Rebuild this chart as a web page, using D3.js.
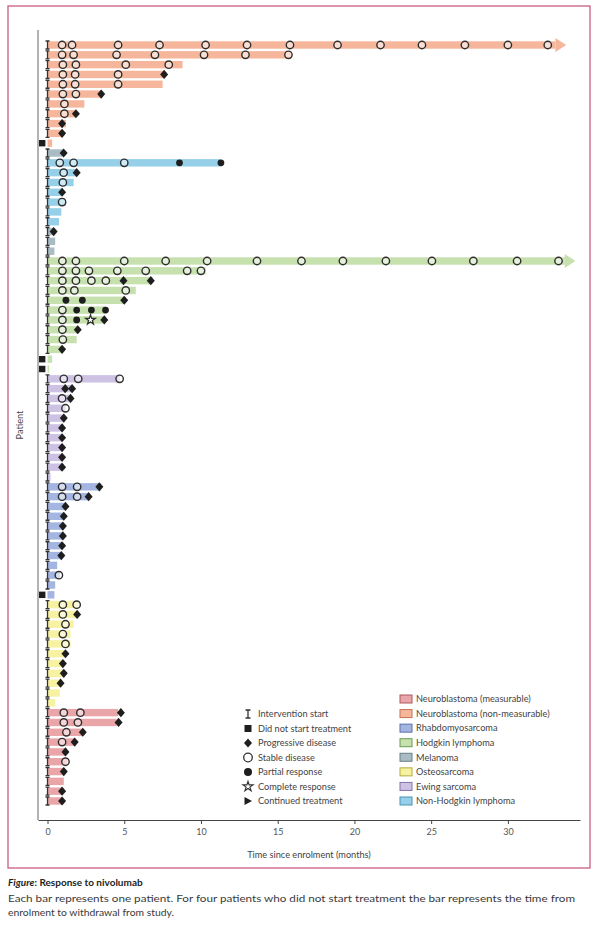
<!DOCTYPE html>
<html><head><meta charset="utf-8">
<script src="https://cdn.jsdelivr.net/npm/d3@7"></script>
<style>body{margin:0;background:#fff}svg{display:block}text{font-family:Lato,"Open Sans",sans-serif}</style>
</head><body><svg id="c" width="600" height="933"></svg>
<script>
// ---------- DATA ----------
const tumourTypes = ["Neuroblastoma (measurable)","Neuroblastoma (non-measurable)","Rhabdomyosarcoma","Hodgkin lymphoma","Melanoma","Osteosarcoma","Ewing sarcoma","Non-Hodgkin lymphoma"];
const typeColors = ["#e9a5a8","#f5b69c","#a3b5e0","#c6e0ae","#a9bcc4","#f7f2a2","#cdc2e4","#95cfe8"];
const typeStrokes = ["#b0575e","#c9724f","#5a70a8","#6d9a4f","#6a7f88","#b3ab3a","#8474a8","#4b93b5"];
// tumour type index per patient (row order top to bottom)
const patientType = [1,1,1,1,1,1,1,1,1,1,1, 4,7,7,7,7,7,7,7,4,4,4,
  3,3,3,3,3,3,3,3,3,3,3,3, 6,6,6,6,6,6,6,6,6,6,6,
  2,2,2,2,2,2,2,2,2,2,2,2, 5,5,5,5,5,5,5,5,5,5,5, 0,0,0,0,0,0,0,0,0,0];
// months on study
const duration = [33.8,15.9,8.8,7.6,7.5,3.5,2.4,1.85,1.2,1.0,0.3, 1.0,11.3,1.9,1.7,1.0,1.2,0.9,0.75,0.4,0.5,0.45,
  34.4,10.3,6.75,5.75,5.0,3.8,3.7,2.0,1.9,0.95,0.3,0.1, 4.7,1.6,1.5,1.2,1.06,0.95,0.95,0.95,0.95,0.95,0.2,
  3.38,2.68,1.17,1.06,1.0,1.0,0.95,0.9,0.63,0.8,0.5,0.45, 2.0,1.93,1.7,1.5,1.5,1.17,1.0,1.06,0.85,0.8,0.5,
  4.6,4.5,2.3,1.77,1.17,1.3,1.06,1.06,0.95,0.95];
const didNotStart = [10,32,33,56];
const continuedTreatment = [0,22];
// [patient, month]
const stableDisease = [
  [0,0.95],[0,1.6],[0,4.6],[0,7.3],[0,10.3],[0,13.0],[0,15.8],[0,18.9],[0,21.7],[0,24.4],[0,27.2],[0,30.0],[0,32.6],
  [1,0.95],[1,1.7],[1,4.5],[1,7.0],[1,10.2],[1,12.9],[1,15.7],
  [2,1.0],[2,1.85],[2,5.1],[2,7.9],[3,1.0],[3,1.8],[3,4.6],[4,1.0],[4,1.8],[4,4.6],
  [5,1.0],[5,1.85],[6,1.1],[7,1.1],
  [12,0.8],[12,1.7],[12,5.0],[13,1.05],[14,1.0],[16,0.95],
  [22,0.97],[22,1.85],[22,5.0],[22,7.7],[22,10.4],[22,13.65],[22,16.55],[22,19.25],[22,22.05],[22,25.05],[22,27.75],[22,30.6],[22,33.3],
  [23,0.97],[23,1.85],[23,2.7],[23,4.55],[23,6.4],[23,9.1],[23,10.0],
  [24,0.97],[24,1.85],[24,2.86],[24,3.8],[25,0.97],[25,1.75],[25,5.1],
  [27,0.97],[28,0.97],[29,0.97],[30,1.0],
  [34,1.06],[34,2.0],[34,4.7],[36,0.95],[37,1.17],
  [45,0.95],[45,1.93],[46,0.95],[46,1.93],[54,0.74],
  [57,1.0],[57,1.9],[58,1.0],[59,1.17],[60,1.0],[61,1.17],
  [68,1.06],[68,2.14],[69,1.06],[69,1.98],[70,1.23],[71,0.95],[73,1.17]];
const partialResponse = [[12,8.6],[12,11.3],[26,1.2],[26,2.27],[27,1.9],[27,2.86],[27,3.78],[28,1.9]];
const completeResponse = [[28,2.8]];
const progressiveDisease = [[3,7.6],[5,3.5],[7,1.85],[8,0.95],[9,0.95],
  [11,1.05],[13,1.9],[15,0.95],[19,0.4],
  [24,4.95],[24,6.73],[26,5.0],[28,3.7],[29,1.97],[31,0.95],
  [35,1.15],[35,1.6],[36,1.5],[38,1.06],[39,0.95],[40,0.95],[41,0.95],[42,0.95],[43,0.95],
  [45,3.38],[46,2.68],[47,1.17],[48,1.06],[49,1.0],[50,1.0],[51,0.95],[52,0.9],
  [58,1.93],[62,1.17],[63,1.0],[64,1.06],[65,0.85],
  [68,4.78],[69,4.63],[70,2.3],[71,1.77],[72,1.17],[74,1.06],[76,0.95],[77,0.95]];
const xTicks = [0,5,10,15,20,25,30];
const responseLegend = ["Intervention start","Did not start treatment","Progressive disease","Stable disease","Partial response","Complete response","Continued treatment"];

// ---------- DRAW ----------
const svg = d3.select("#c");
const dark = "#1e1e1e";
const x = d3.scaleLinear().domain([-0.62, 34.7]).range([38, 580]);
const y = d3.scaleLinear().domain([0, patientType.length - 1]).range([45, 801]);
const barH = 7.4;

// frame
svg.append("rect").attr("x",8).attr("y",6).attr("width",582).attr("height",862)
  .attr("fill","none").attr("stroke","#c95c7e").attr("stroke-width",1.3);

const rows = d3.range(patientType.length);
const dns = new Set(didNotStart), cont = new Set(continuedTreatment);
const arrowLen = 0.7;

// bars
svg.append("g").selectAll("rect").data(rows).join("rect")
  .attr("x", x(0))
  .attr("y", i => y(i) - barH/2)
  .attr("width", i => x(cont.has(i) ? duration[i]-arrowLen : duration[i]) - x(0))
  .attr("height", barH)
  .attr("fill", i => typeColors[patientType[i]]);
// arrows
svg.append("g").selectAll("path").data(continuedTreatment).join("path")
  .attr("d", i => { const x0 = x(duration[i]-arrowLen), x1 = x(duration[i]), yy = y(i);
    return `M${x0},${yy-7}L${x1},${yy}L${x0},${yy+7}Z`; })
  .attr("fill", i => typeColors[patientType[i]]);

// intervention start I-beams
const starts = rows.filter(i => !dns.has(i));
svg.append("g").selectAll("path").data(starts).join("path")
  .attr("d", i => { const xx = x(0), yy = y(i);
    return `M${xx},${yy-4}V${yy+4}M${xx-2},${yy-4}H${xx+2}M${xx-2},${yy+4}H${xx+2}`; })
  .attr("stroke", "#333").attr("stroke-width", 1.3).attr("fill","none");

// y axis & x axis
svg.append("line").attr("x1",38).attr("x2",38).attr("y1",30).attr("y2",820).attr("stroke","#666").attr("stroke-width",1);
const ax = svg.append("g").attr("transform","translate(0,820)")
  .call(d3.axisBottom(x).tickValues(xTicks).tickSize(4).tickSizeOuter(0));
ax.select(".domain").attr("stroke","#444");
ax.selectAll(".tick line").attr("stroke","#444");
ax.selectAll(".tick text").attr("fill","#555").attr("font-size",9).attr("dy","0.9em")
  .style("font-family","Lato,sans-serif");

// did not start squares
svg.append("g").selectAll("rect").data(didNotStart).join("rect")
  .attr("x", x(-0.62)+1).attr("y", i => y(i)-3.2).attr("width",6.4).attr("height",6.4).attr("fill",dark);

// stable disease
svg.append("g").selectAll("circle").data(stableDisease).join("circle")
  .attr("cx", d => x(d[1])).attr("cy", d => y(d[0])).attr("r",3.7)
  .attr("fill","rgba(255,255,255,0.55)").attr("stroke", "#2e2e2e").attr("stroke-width",1.4);
// partial
svg.append("g").selectAll("circle").data(partialResponse).join("circle")
  .attr("cx", d => x(d[1])).attr("cy", d => y(d[0])).attr("r",3.4).attr("fill",dark);
// progressive
const diamond = (cx, cy) => `M${cx},${cy-4.6}L${cx+4},${cy}L${cx},${cy+4.6}L${cx-4},${cy}Z`;
svg.append("g").selectAll("path").data(progressiveDisease).join("path")
  .attr("d", d => diamond(x(d[1]), y(d[0]))).attr("fill",dark);
// complete
const star = d3.symbol().type(d3.symbolStar).size(30);
svg.append("g").selectAll("path").data(completeResponse).join("path")
  .attr("transform", d => `translate(${x(d[1])},${y(d[0])})`).attr("d", star)
  .attr("fill","#fff").attr("stroke","#2e2e2e").attr("stroke-width",1.2);

// axis labels
svg.append("text").attr("x",309).attr("y",858).attr("text-anchor","middle").attr("font-size",9.2).attr("fill","#444")
  .text("Time since enrolment (months)");
svg.append("text").attr("transform","translate(23,425) rotate(-90)").attr("text-anchor","middle").attr("font-size",9.2).attr("fill","#444")
  .text("Patient");

// response legend
const lg = svg.append("g");
const ly = d3.scaleLinear().domain([0,6]).range([714,801]);
responseLegend.forEach((t,k) => {
  const cx = 248, cy = ly(k);
  if (k===0) lg.append("path").attr("d",`M${cx},${cy-4}V${cy+4}M${cx-2.5},${cy-4}H${cx+2.5}M${cx-2.5},${cy+4}H${cx+2.5}`).attr("stroke","#333").attr("stroke-width",1.3);
  if (k===1) lg.append("rect").attr("x",cx-3.5).attr("y",cy-3.5).attr("width",7).attr("height",7).attr("fill",dark);
  if (k===2) lg.append("path").attr("d",diamond(cx,cy)).attr("fill",dark);
  if (k===3) lg.append("circle").attr("cx",cx).attr("cy",cy).attr("r",4.3).attr("fill","#fff").attr("stroke","#333").attr("stroke-width",1.3);
  if (k===4) lg.append("circle").attr("cx",cx).attr("cy",cy).attr("r",4).attr("fill",dark);
  if (k===5) lg.append("path").attr("transform",`translate(${cx},${cy})`).attr("d",star).attr("fill","#fff").attr("stroke","#333").attr("stroke-width",1.2);
  if (k===6) lg.append("path").attr("d",`M${cx-3.5},${cy-4}L${cx+4},${cy}L${cx-3.5},${cy+4}Z`).attr("fill",dark);
  lg.append("text").attr("x",258).attr("y",cy).attr("dy","0.35em").attr("font-size",9.2).attr("fill","#444").text(t);
});
// tumour legend
const ty = d3.scaleLinear().domain([0,7]).range([699,801]);
tumourTypes.forEach((t,k) => {
  const cy = ty(k);
  lg.append("rect").attr("x",400).attr("y",cy-4).attr("width",12).attr("height",8)
    .attr("fill",typeColors[k]).attr("stroke",typeStrokes[k]).attr("stroke-width",1);
  lg.append("text").attr("x",416).attr("y",cy).attr("dy","0.35em").attr("font-size",9.2).attr("fill","#444").text(t);
});

// caption
const cap = svg.append("text").attr("x",8).attr("y",886).attr("font-size",10).attr("fill","#222").attr("font-weight","bold");
cap.append("tspan").attr("font-style","italic").text("Figure");
cap.append("tspan").text(": Response to nivolumab");
svg.append("text").attr("x",8).attr("y",902).attr("font-size",9.8).attr("fill","#3a3a3a")
  .attr("textLength",567).attr("lengthAdjust","spacingAndGlyphs")
  .text("Each bar represents one patient. For four patients who did not start treatment the bar represents the time from");
svg.append("text").attr("x",8).attr("y",916).attr("font-size",9.8).attr("fill","#3a3a3a")
  .attr("textLength",166).attr("lengthAdjust","spacingAndGlyphs")
  .text("enrolment to withdrawal from study.");
</script></body></html>
